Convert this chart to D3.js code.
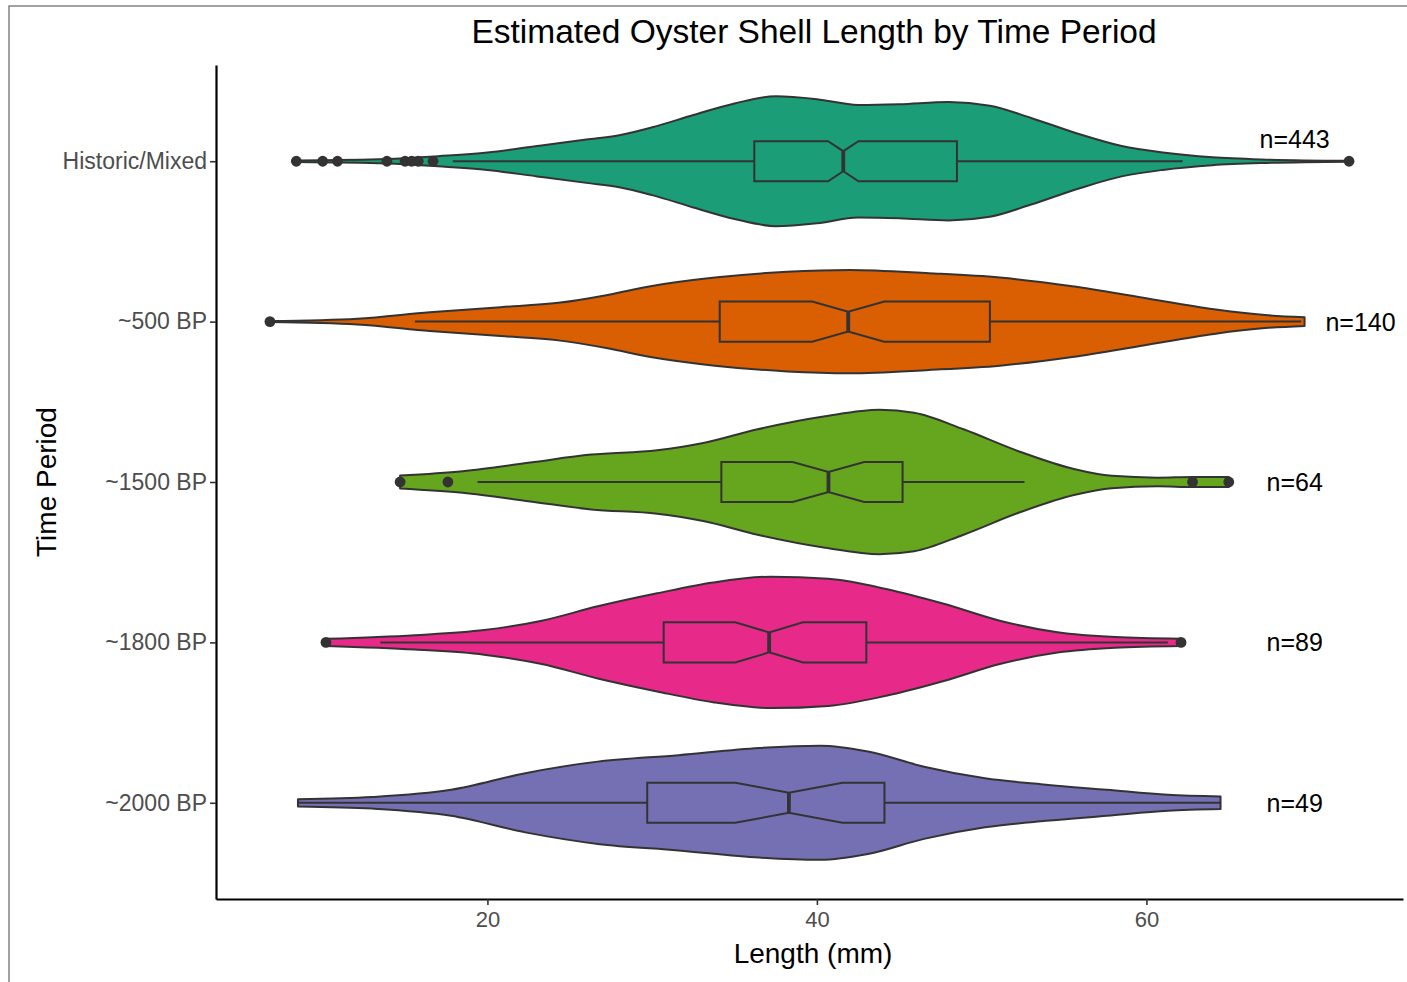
<!DOCTYPE html>
<html>
<head>
<meta charset="utf-8">
<script src="https://cdn.jsdelivr.net/npm/d3@7"></script>
<style>
  html, body { margin: 0; padding: 0; background: #ffffff; }
  svg { display: block; font-family: "Liberation Sans", Arial, Helvetica, sans-serif; }
</style>
</head>
<body>
<svg id="chart" width="1407" height="982"></svg>
<script>
// ---------------- DATA ----------------
const categories = ["Historic/Mixed", "~500 BP", "~1500 BP", "~1800 BP", "~2000 BP"];
const fillColors = ["#1B9E77", "#D95F02", "#66A61E", "#E7298A", "#7570B3"];
const counts = [443, 140, 64, 89, 49];

const q1 = [36.2, 34.1, 34.2, 30.7, 29.7];
const medians = [41.6, 41.9, 40.7, 37.1, 38.3];
const q3 = [48.5, 50.5, 45.2, 43.0, 44.1];
const whiskerLow = [17.9, 15.6, 19.4, 13.5, 8.5];
const whiskerHigh = [62.2, 69.4, 52.6, 61.3, 64.5];

const outliersHistoric = [8.4, 10.0, 10.9, 13.9, 15.0, 15.4, 15.8, 16.7, 72.3];
const outliers500 = [6.8];
const outliers1500 = [14.7, 17.6, 62.8, 65.0];
const outliers1800 = [10.2, 62.1];
const outliers2000 = [];

// scaled kernel density: [length (mm), density relative to the largest]
const densityHistoric = [
  [8.4, 0.01], [13.9, 0.03], [17, 0.07], [20, 0.12], [23, 0.21], [26, 0.3], [28, 0.36],
  [30, 0.47], [32.5, 0.64], [35, 0.8], [37.5, 0.9], [40, 0.86], [42.5, 0.78], [45, 0.79],
  [48, 0.82], [50.5, 0.77], [53, 0.6], [56, 0.37], [58.5, 0.21], [61, 0.12], [64, 0.055],
  [67, 0.025], [72.3, 0.006]
];
const density500 = [
  [6.8, 0.007], [12.1, 0.04], [16.5, 0.13], [20.8, 0.2], [24.3, 0.26], [27.3, 0.37],
  [29.9, 0.49], [33.8, 0.61], [38.2, 0.69], [42.0, 0.715], [46.8, 0.67], [51.1, 0.61],
  [55.5, 0.49], [59.8, 0.33], [64.1, 0.17], [67.2, 0.09], [69.6, 0.06]
];
const density1500 = [
  [14.7, 0.09], [18.5, 0.15], [22.6, 0.27], [26.3, 0.38], [30.3, 0.44], [33.1, 0.54],
  [36.4, 0.73], [40.5, 0.91], [43.8, 1.0], [45.9, 0.96], [48.9, 0.73], [52.2, 0.43],
  [55.6, 0.18], [57.9, 0.085], [60.7, 0.06], [62.8, 0.07], [65.0, 0.07]
];
const density1800 = [
  [10.2, 0.05], [15.6, 0.1], [19.8, 0.17], [23.3, 0.3], [26.7, 0.5], [30.3, 0.68],
  [33.7, 0.83], [37.2, 0.91], [40.7, 0.88], [44.2, 0.74], [47.7, 0.535], [51.1, 0.3],
  [54.6, 0.14], [58.1, 0.073], [62.1, 0.05]
];
const density2000 = [
  [8.5, 0.05], [13.0, 0.08], [17.8, 0.18], [22.3, 0.41], [26.7, 0.57], [31.6, 0.66],
  [36.5, 0.76], [40.2, 0.79], [43.1, 0.71], [46.5, 0.5], [50.2, 0.34], [53.9, 0.25],
  [57.6, 0.18], [61.3, 0.11], [64.5, 0.087]
];

const xTicks = [20, 40, 60];
const nLabelX = [69, 73, 69, 69, 69];
const nLabelLift = [0.14, 0, 0, 0, 0];   // in category units

const titleText = "Estimated Oyster Shell Length by Time Period";
const xTitle = "Length (mm)";
const yTitle = "Time Period";

// ---------------- LAYOUT ----------------
const densities = [densityHistoric, density500, density1500, density1800, density2000];
const outliers = [outliersHistoric, outliers500, outliers1500, outliers1800, outliers2000];

const panel = { left: 216, right: 1403, top: 65, bottom: 899 };
const ink = "#333333";
const lw = 2;

const svg = d3.select("#chart");

// frame
svg.append("rect").attr("x", 9).attr("y", 6).attr("width", 1440).attr("height", 1000)
  .attr("fill", "none").attr("stroke", "#8a8a8a").attr("stroke-width", 1.6);

const allVals = densities.flat().map(d => d[0]).concat(outliers.flat());
const vmin = d3.min(allVals), vmax = d3.max(allVals);
const pad = (vmax - vmin) * 0.05;
const x = d3.scaleLinear().domain([vmin - pad, vmax + pad]).range([panel.left, panel.right]);
const y = d3.scalePoint().domain(categories).range([panel.top, panel.bottom]).padding(0.6);
const step = y.step();
const maxHalf = 0.45 * step;
const boxHalf = 0.125 * step;

// violins, boxes
categories.forEach((cat, i) => {
  const cy = y(cat);
  const g = svg.append("g");
  const area = d3.area()
    .x(d => x(d[0]))
    .y0(d => cy + d[1] * maxHalf)
    .y1(d => cy - d[1] * maxHalf)
    .curve(d3.curveMonotoneX);
  g.append("path").attr("d", area(densities[i]))
    .attr("fill", fillColors[i]).attr("stroke", ink).attr("stroke-width", lw)
    .attr("stroke-linejoin", "round");

  // whiskers
  g.append("line").attr("x1", x(whiskerLow[i])).attr("x2", x(q1[i]))
    .attr("y1", cy).attr("y2", cy).attr("stroke", ink).attr("stroke-width", lw);
  g.append("line").attr("x1", x(q3[i])).attr("x2", x(whiskerHigh[i]))
    .attr("y1", cy).attr("y2", cy).attr("stroke", ink).attr("stroke-width", lw);

  // notched box
  const notch = 1.58 * (q3[i] - q1[i]) / Math.sqrt(counts[i]);
  const nLo = medians[i] - notch, nHi = medians[i] + notch;
  const pts = [
    [x(q1[i]), cy - boxHalf], [x(nLo), cy - boxHalf], [x(medians[i]), cy - boxHalf / 2],
    [x(nHi), cy - boxHalf], [x(q3[i]), cy - boxHalf], [x(q3[i]), cy + boxHalf],
    [x(nHi), cy + boxHalf], [x(medians[i]), cy + boxHalf / 2], [x(nLo), cy + boxHalf],
    [x(q1[i]), cy + boxHalf]
  ];
  g.append("path").attr("d", "M" + pts.map(p => p.join(",")).join("L") + "Z")
    .attr("fill", fillColors[i]).attr("stroke", ink).attr("stroke-width", lw)
    .attr("stroke-linejoin", "miter");
  g.append("line").attr("x1", x(medians[i])).attr("x2", x(medians[i]))
    .attr("y1", cy - boxHalf / 2).attr("y2", cy + boxHalf / 2)
    .attr("stroke", ink).attr("stroke-width", 3.8);

  // outliers
  g.selectAll("circle").data(outliers[i]).join("circle")
    .attr("cx", d => x(d)).attr("cy", cy).attr("r", 5.4).attr("fill", ink);

  // n labels
  svg.append("text").attr("x", x(nLabelX[i])).attr("y", y(cat) - nLabelLift[i] * step)
    .attr("text-anchor", "middle").attr("dominant-baseline", "central")
    .attr("font-size", 25).attr("fill", "#000").text("n=" + counts[i]);
});

// axes
const xAxis = svg.append("g").attr("transform", `translate(0,${panel.bottom})`)
  .call(d3.axisBottom(x).tickValues(xTicks).tickSize(6).tickSizeOuter(0).tickPadding(6)
    .tickFormat(d3.format("d")));
xAxis.select(".domain").attr("stroke", "#000").attr("stroke-width", 2.2);
xAxis.selectAll(".tick line").attr("stroke", ink).attr("stroke-width", 1.6);
xAxis.selectAll(".tick text").attr("font-size", 22).attr("fill", "#4d4d4d")
  .attr("font-family", "Liberation Sans, Arial, sans-serif");

const yAxis = svg.append("g").attr("transform", `translate(${panel.left},0)`)
  .call(d3.axisLeft(y).tickSize(6).tickSizeOuter(0).tickPadding(3));
yAxis.select(".domain").attr("stroke", "#000").attr("stroke-width", 2.2);
yAxis.selectAll(".tick line").attr("stroke", ink).attr("stroke-width", 1.6);
yAxis.selectAll(".tick text").attr("font-size", 23).attr("fill", "#4d4d4d")
  .attr("font-family", "Liberation Sans, Arial, sans-serif");

// titles
svg.append("text").attr("x", 814).attr("y", 43)
  .attr("text-anchor", "middle").attr("font-size", 33.5).attr("fill", "#000").text(titleText);
svg.append("text").attr("x", 813).attr("y", 963)
  .attr("text-anchor", "middle").attr("font-size", 28).attr("fill", "#000").text(xTitle);
svg.append("text").attr("transform", `translate(56,${(panel.top + panel.bottom) / 2}) rotate(-90)`)
  .attr("text-anchor", "middle").attr("font-size", 28).attr("fill", "#000").text(yTitle);
</script>
</body>
</html>
